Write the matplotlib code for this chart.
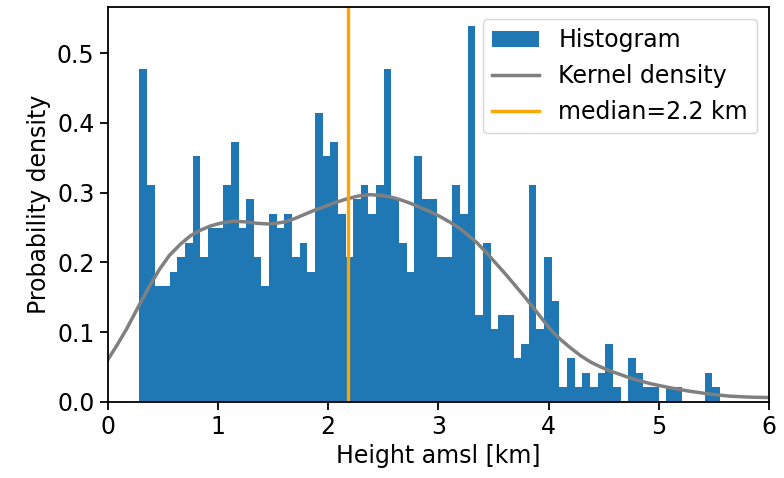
import numpy as np
import matplotlib
matplotlib.use("Agg")
import matplotlib.pyplot as plt

# Histogram of heights: 76 equal bins between the lowest and highest sample
bin_lo, bin_hi, n_bins = 0.286, 5.553, 76
counts = [23, 15, 8, 8, 9, 10, 11, 17, 10, 12,
          12, 15, 18, 12, 14, 10, 8, 13, 12, 13,
          10, 11, 9, 20, 17, 18, 13, 10, 14, 15,
          13, 15, 23, 14, 11, 9, 17, 14, 14, 10,
          10, 15, 13, 26, 6, 11, 5, 6, 6, 3,
          4, 15, 5, 10, 7, 1, 3, 1, 2, 1,
          2, 4, 1, 0, 3, 2, 1, 1, 0, 1,
          1, 0, 0, 0, 2, 1]

# Kernel density estimate (km, 1/km)
kde_x = [0.0, 0.08, 0.17, 0.29, 0.38, 0.47, 0.56, 0.66, 0.75, 0.84, 0.93,
         1.02, 1.14, 1.25, 1.35, 1.45, 1.53, 1.61, 1.70, 1.79, 1.88, 1.97,
         2.07, 2.17, 2.27, 2.38, 2.47, 2.56, 2.65, 2.74, 2.83, 2.92, 3.01,
         3.10, 3.20, 3.35, 3.44, 3.53, 3.62, 3.70, 3.78, 3.85, 3.94, 4.02,
         4.11, 4.20, 4.29, 4.38, 4.47, 4.56, 4.65, 4.74, 4.83, 4.92, 5.01,
         5.10, 5.28, 5.46, 5.64, 5.82, 6.0]
kde_y = [0.060, 0.080, 0.104, 0.140, 0.166, 0.190, 0.210, 0.226, 0.238, 0.246, 0.252,
         0.256, 0.259, 0.258, 0.256, 0.255, 0.256, 0.258, 0.263, 0.269, 0.275, 0.280,
         0.286, 0.291, 0.295, 0.297, 0.296, 0.294, 0.290, 0.285, 0.279, 0.273, 0.266,
         0.258, 0.248, 0.228, 0.213, 0.197, 0.181, 0.166, 0.151, 0.137, 0.119, 0.103,
         0.089, 0.077, 0.066, 0.057, 0.050, 0.044, 0.039, 0.034, 0.030, 0.026, 0.023,
         0.020, 0.015, 0.011, 0.008, 0.0066, 0.006]

median = 2.18

plt.rcParams["font.size"] = 17

edges = np.linspace(bin_lo, bin_hi, n_bins + 1)
centers = 0.5 * (edges[:-1] + edges[1:])

fig = plt.figure(figsize=(7.84, 4.78), dpi=100)
ax = fig.add_axes([0.1374, 0.1596, 0.8436, 0.8254])

ax.hist(centers, bins=edges, weights=counts, density=True,
        color="#1f77b4", label="Histogram")
ax.plot(kde_x, kde_y, color="gray", lw=2.5, label="Kernel density")
ax.axvline(median, color="orange", lw=2.4, label=f"median={median:.1f} km")

ax.set_xlim(0, 6)
ax.set_xlabel("Height amsl [km]")
ax.set_ylabel("Probability density")
for s in ax.spines.values():
    s.set_linewidth(1.3)
ax.tick_params(width=1.3, length=6)
ax.legend(loc="upper right")

fig.savefig("out.png", dpi=100)
